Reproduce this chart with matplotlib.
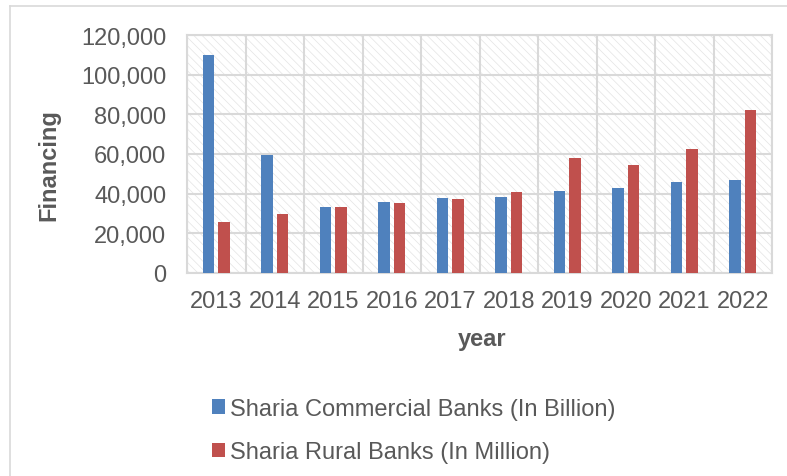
import numpy as np
import matplotlib.pyplot as plt
from matplotlib.patches import Rectangle
from matplotlib.lines import Line2D
from matplotlib.ticker import FuncFormatter, FixedLocator

plt.rcParams['font.family'] = ['Liberation Sans', 'DejaVu Sans']
plt.rcParams['hatch.linewidth'] = 0.5
plt.rcParams['hatch.color'] = '#e3e3e3'

# Дані про фінансування
years = ['2013', '2014', '2015', '2016', '2017', '2018', '2019', '2020', '2021', '2022']
commercial = [110000, 59600, 33200, 35600, 37700, 38200, 41400, 42700, 45700, 46700]
rural = [25900, 29800, 33500, 35300, 37200, 40700, 58000, 54500, 62500, 82400]

label_commercial = 'Sharia Commercial Banks (In Billion)'
label_rural = 'Sharia Rural Banks (In Million)'

text_color = '#595959'
fs = 17

fig = plt.figure(figsize=(7.87, 4.77), dpi=100)
ax = fig.add_axes([187 / 787, 1 - 274 / 477, (772 - 187) / 787, (274 - 36) / 477])

x = np.arange(len(years))
w = 0.19
off = 0.133

# Фон з візерунком
ax.add_patch(Rectangle((0, 0), 1, 1, transform=ax.transAxes, facecolor='white',
                       hatch='\\\\\\\\', edgecolor='#e3e3e3', lw=0, zorder=0))

b1 = ax.bar(x - off, commercial, w, color='#4F81BD', zorder=3)
b2 = ax.bar(x + off, rural, w, color='#C0504D', zorder=3)

ax.set_xlim(-0.5, len(years) - 0.5)
ax.set_ylim(0, 120000)
ax.set_yticks(np.arange(0, 120001, 20000))
ax.yaxis.set_major_formatter(FuncFormatter(lambda v, p: f'{int(v):,}'))
ax.set_xticks(x)
ax.set_xticklabels(years)
ax.xaxis.set_minor_locator(FixedLocator(np.arange(-0.5, len(years), 1.0)))

ax.grid(axis='y', which='major', color='#d9d9d9', lw=1.5, zorder=1)
ax.grid(axis='x', which='minor', color='#d9d9d9', lw=1.5, zorder=1)
ax.grid(axis='x', which='major', visible=False)
ax.set_axisbelow(True)

ax.tick_params(axis='both', which='both', length=0, labelsize=fs, labelcolor=text_color)
ax.tick_params(axis='y', pad=15)
ax.tick_params(axis='x', pad=12)
for s in ax.spines.values():
    s.set_color('#d9d9d9')
    s.set_linewidth(1.5)

fig.text(49 / 787, 1 - 165 / 477, 'Financing', rotation=90, ha='center', va='center',
         fontsize=fs, fontweight='bold', color=text_color)
fig.text(482 / 787, 1 - 340 / 477, 'year', ha='center', va='center',
         fontsize=fs, fontweight='bold', color=text_color)

# Легенда
fig.legend([b1, b2], [label_commercial, label_rural], loc='upper left',
           bbox_to_anchor=(200 / 787, 1 - 387 / 477), frameon=False, fontsize=fs,
           labelcolor=text_color, handlelength=0.55, handleheight=0.55,
           handletextpad=0.2, labelspacing=0.9, borderpad=0)

# Рамка діаграми
fig.add_artist(Line2D([10 / 787, 10 / 787], [0, 1 - 6.5 / 477], transform=fig.transFigure,
                      color='#d9d9d9', lw=1.2))
fig.add_artist(Line2D([10 / 787, 1], [1 - 6.5 / 477, 1 - 6.5 / 477], transform=fig.transFigure,
                      color='#d9d9d9', lw=1.2))

fig.savefig('out.png', dpi=100)
